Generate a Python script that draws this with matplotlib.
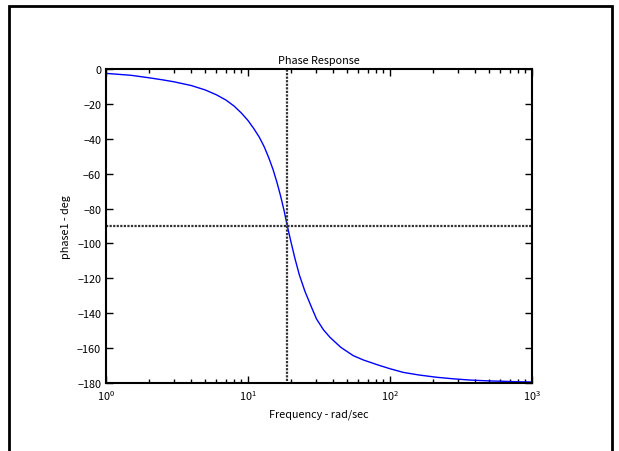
import matplotlib
matplotlib.use('Agg')
import matplotlib.pyplot as plt
from matplotlib.patches import Rectangle

# values (rad/sec, degrees)
freq = [1, 1.5, 2, 2.5, 3, 4, 5, 6, 7, 8, 9, 10, 11, 12, 13, 14, 15, 16, 17, 18,
        18.9, 20, 21.4, 23, 25.2, 28, 30.4, 34, 37.8, 45, 55.1, 65, 82.6, 100,
        124, 160, 213, 280, 366, 500, 628, 800, 1000]
phase = [-2.5, -3.6, -5.0, -6.2, -7.3, -9.5, -12.0, -14.8, -17.8, -21.3, -25.3,
         -29.5, -34.2, -39.0, -44.5, -50.8, -57.5, -65.0, -73.0, -81.5,
         -89.8, -98.5, -108.5, -118.0, -127.5, -136.5, -143.3, -149.5, -153.8,
         -159.5, -164.3, -166.8, -169.7, -171.8, -173.9, -175.4, -176.7, -177.6,
         -178.3, -178.8, -179.0, -179.3, -179.4]
w_n = 18.9
phase_ref = -90
y_ticks = [0, -20, -40, -60, -80, -100, -120, -140, -160, -180]

plt.rcParams['font.family'] = ['Noto Sans CJK JP', 'DejaVu Sans']
plt.rcParams['mathtext.fontset'] = 'custom'
plt.rcParams['mathtext.rm'] = 'Noto Sans CJK JP'
plt.rcParams['mathtext.default'] = 'regular'
plt.rcParams['font.size'] = 7.8

fig = plt.figure(figsize=(6.19, 4.52), dpi=100)
ax = fig.add_axes([0.1712, 0.1504, 0.6882, 0.6947])

ax.semilogx(freq, phase, color='#0000ff', lw=1.0)
ax.axvline(w_n, ymin=0.008, color='#333333', lw=1.6, ls=(0, (1, 0.6)))
ax.axhline(phase_ref, color='#333333', lw=1.6, ls=(0, (1, 0.6)))

ax.set_xlim(1, 1000)
ax.set_ylim(-180, 0)
ax.set_yticks(y_ticks)
ax.set_yticklabels([str(t).replace('-', '\u2212') for t in y_ticks])
ax.tick_params(which='both', direction='in', top=True, right=True, width=1)
ax.tick_params(which='major', length=5)
ax.tick_params(which='minor', length=3)
for s in ax.spines.values():
    s.set_linewidth(1.5)

ax.set_title('Phase Response', fontsize=7.8, pad=4)
ax.set_xlabel('Frequency - rad/sec', labelpad=5)
ax.set_ylabel('phase1 - deg', labelpad=4)

# outer frame
fig.patches.append(Rectangle((0.0145, -0.05), 0.974, 1.035, transform=fig.transFigure,
                             fill=False, lw=2, edgecolor='black'))

fig.savefig('out.png', dpi=100)
